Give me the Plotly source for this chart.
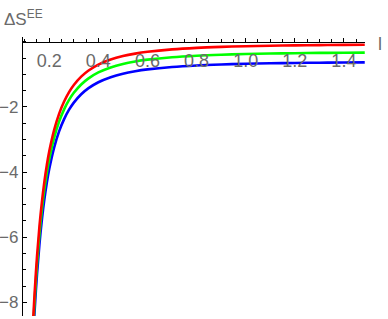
import plotly.graph_objects as go

# sample positions along l
l_vals = [0.135, 0.14, 0.15, 0.16, 0.17, 0.18, 0.19, 0.20, 0.22, 0.24, 0.26, 0.28, 0.30,
          0.33, 0.36, 0.40, 0.45, 0.50, 0.55, 0.60, 0.70, 0.80, 0.90, 1.00, 1.10, 1.20,
          1.30, 1.40, 1.485]

red_vals = [-8.45, -7.76, -6.60, -5.67, -4.92, -4.30, -3.79, -3.36, -2.70, -2.21, -1.84,
            -1.55, -1.325, -1.069, -0.881, -0.699, -0.544, -0.437, -0.361, -0.305, -0.230,
            -0.184, -0.154, -0.133, -0.118, -0.107, -0.099, -0.093, -0.089]

green_vals = [-8.69, -8.00, -6.84, -5.91, -5.16, -4.54, -4.03, -3.60, -2.94, -2.45, -2.08,
              -1.79, -1.565, -1.309, -1.121, -0.939, -0.784, -0.677, -0.601, -0.545, -0.470,
              -0.424, -0.394, -0.373, -0.358, -0.347, -0.339, -0.333, -0.329]

blue_vals = [-8.99, -8.30, -7.14, -6.21, -5.46, -4.84, -4.33, -3.90, -3.24, -2.75, -2.38,
             -2.09, -1.865, -1.609, -1.421, -1.239, -1.084, -0.977, -0.901, -0.845, -0.770,
             -0.724, -0.694, -0.673, -0.658, -0.647, -0.639, -0.633, -0.629]

x_ticks = [0.2, 0.4, 0.6, 0.8, 1.0, 1.2, 1.4]
x_tick_labels = ["0.2", "0.4", "0.6", "0.8", "1.0", "1.2", "1.4"]
y_ticks = [-8, -6, -4, -2]
y_tick_labels = ["\u22128", "\u22126", "\u22124", "\u22122"]

x_range = [0.093, 1.486]
y_range = [-8.42, 0.15]

fig = go.Figure()
for vals, col in [(blue_vals, "#0000FF"), (green_vals, "#00FF00"), (red_vals, "#FF0000")]:
    fig.add_trace(go.Scatter(x=l_vals, y=vals, mode="lines",
                             line=dict(color=col, width=2.6, shape="spline"),
                             showlegend=False, hoverinfo="skip"))

xpos = (0 - y_range[0]) / (y_range[1] - y_range[0])

fig.update_layout(
    width=388, height=319,
    margin=dict(l=23, r=23, t=37, b=3),
    paper_bgcolor="white", plot_bgcolor="white",
    font=dict(family="Liberation Sans, Arial, sans-serif", color="#6a6a6a", size=18),
    xaxis=dict(range=x_range, anchor="free", position=xpos, side="bottom",
               automargin=False,
               showline=True, linecolor="black", linewidth=1.2,
               ticks="inside", ticklen=4, tickcolor="black", tickwidth=1,
               tickvals=x_ticks, ticktext=x_tick_labels, ticklabelstandoff=2,
               minor=dict(ticks="inside", ticklen=2.5, tickcolor="black", dtick=0.05, tick0=0),
               showgrid=False, zeroline=False, fixedrange=True),
    yaxis=dict(range=y_range, automargin=False,
               showline=True, linecolor="black", linewidth=1.2,
               ticks="inside", ticklen=4, tickcolor="black", tickwidth=1,
               tickvals=y_ticks, ticktext=y_tick_labels, tickfont=dict(size=17),
               minor=dict(ticks="inside", ticklen=2.5, tickcolor="black", dtick=0.5, tick0=0),
               showgrid=False, zeroline=False, fixedrange=True),
    annotations=[
        dict(text="\u0394S<sup>EE</sup>", xref="paper", yref="paper",
             x=0, y=1, xshift=-21, yshift=32, xanchor="left", yanchor="top", showarrow=False,
             font=dict(size=17, color="#6a6a6a")),
        dict(text="l", xref="paper", yref="paper",
             x=1, y=xpos, xshift=15, yshift=-2, xanchor="center", yanchor="middle",
             showarrow=False, font=dict(size=18, color="#6a6a6a")),
    ],
)

fig.write_html("out.html", config={"displayModeBar": False},
               post_script="document.body.style.margin='0';")
